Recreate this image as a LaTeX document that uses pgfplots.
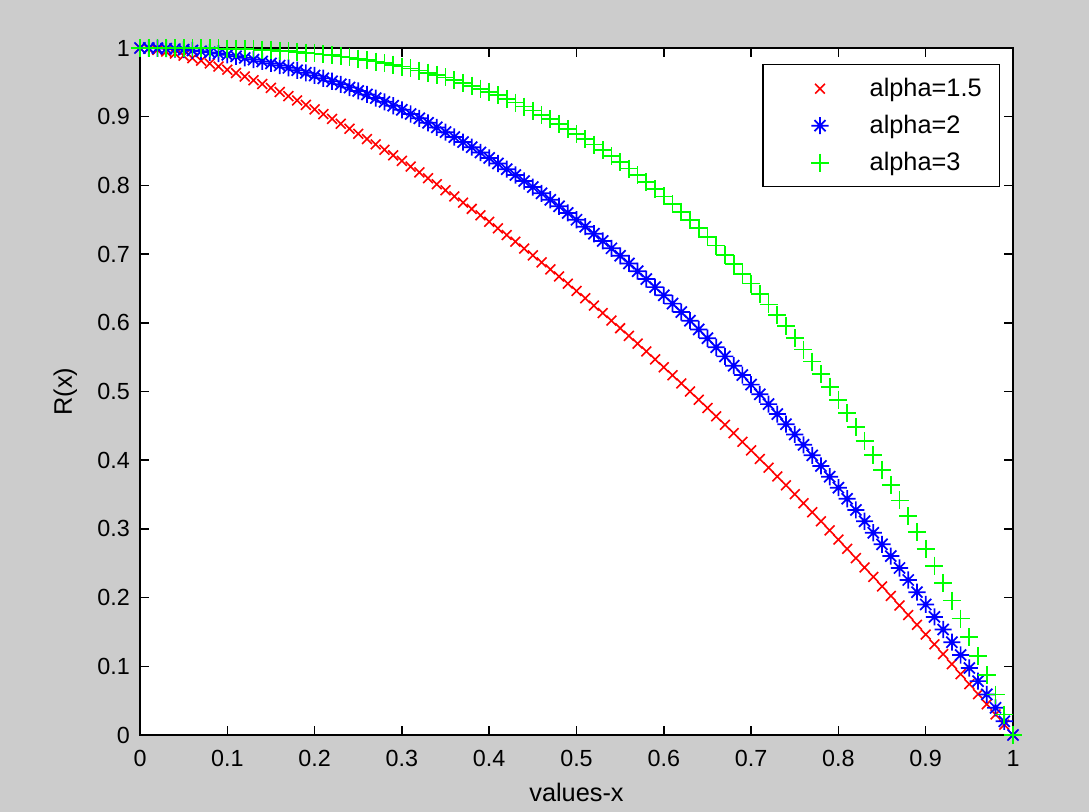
\documentclass[border=0pt]{standalone}
\usepackage{fontspec}
\setmainfont{Liberation Sans}
\usepackage{pgfplots}
\usepackage{pgfplotstable}
\pgfplotsset{compat=1.18}
\definecolor{bg}{RGB}{204,204,204}
\pgfdeclareplotmark{mstar}{%
  \pgfpathmoveto{\pgfqpoint{-\pgfplotmarksize}{0pt}}\pgfpathlineto{\pgfqpoint{\pgfplotmarksize}{0pt}}%
  \pgfpathmoveto{\pgfqpoint{0pt}{-\pgfplotmarksize}}\pgfpathlineto{\pgfqpoint{0pt}{\pgfplotmarksize}}%
  \pgfpathmoveto{\pgfqpoint{-.65\pgfplotmarksize}{-.65\pgfplotmarksize}}\pgfpathlineto{\pgfqpoint{.65\pgfplotmarksize}{.65\pgfplotmarksize}}%
  \pgfpathmoveto{\pgfqpoint{-.65\pgfplotmarksize}{.65\pgfplotmarksize}}\pgfpathlineto{\pgfqpoint{.65\pgfplotmarksize}{-.65\pgfplotmarksize}}%
  \pgfusepathqstroke}
\pgfplotsset{mylegend/.style={legend image code/.code={\path[draw=none,fill=none] (0pt,-13.875pt) rectangle (78pt,13.875pt); \draw[##1] plot coordinates {(42.75pt,0pt)};}}}
\pgfplotstableread{
x a15 a2 a3
0.00 1.0000 1.0000 1.0000
0.01 0.9990 0.9999 1.0000
0.02 0.9972 0.9996 1.0000
0.03 0.9948 0.9991 1.0000
0.04 0.9920 0.9984 0.9999
0.05 0.9888 0.9975 0.9999
0.06 0.9853 0.9964 0.9998
0.07 0.9815 0.9951 0.9997
0.08 0.9774 0.9936 0.9995
0.09 0.9730 0.9919 0.9993
0.10 0.9684 0.9900 0.9990
0.11 0.9635 0.9879 0.9987
0.12 0.9584 0.9856 0.9983
0.13 0.9531 0.9831 0.9978
0.14 0.9476 0.9804 0.9973
0.15 0.9419 0.9775 0.9966
0.16 0.9360 0.9744 0.9959
0.17 0.9299 0.9711 0.9951
0.18 0.9236 0.9676 0.9942
0.19 0.9172 0.9639 0.9931
0.20 0.9106 0.9600 0.9920
0.21 0.9038 0.9559 0.9907
0.22 0.8968 0.9516 0.9894
0.23 0.8897 0.9471 0.9878
0.24 0.8824 0.9424 0.9862
0.25 0.8750 0.9375 0.9844
0.26 0.8674 0.9324 0.9824
0.27 0.8597 0.9271 0.9803
0.28 0.8518 0.9216 0.9780
0.29 0.8438 0.9159 0.9756
0.30 0.8357 0.9100 0.9730
0.31 0.8274 0.9039 0.9702
0.32 0.8190 0.8976 0.9672
0.33 0.8104 0.8911 0.9641
0.34 0.8017 0.8844 0.9607
0.35 0.7929 0.8775 0.9571
0.36 0.7840 0.8704 0.9533
0.37 0.7749 0.8631 0.9493
0.38 0.7658 0.8556 0.9451
0.39 0.7564 0.8479 0.9407
0.40 0.7470 0.8400 0.9360
0.41 0.7375 0.8319 0.9311
0.42 0.7278 0.8236 0.9259
0.43 0.7180 0.8151 0.9205
0.44 0.7081 0.8064 0.9148
0.45 0.6981 0.7975 0.9089
0.46 0.6880 0.7884 0.9027
0.47 0.6778 0.7791 0.8962
0.48 0.6674 0.7696 0.8894
0.49 0.6570 0.7599 0.8824
0.50 0.6464 0.7500 0.8750
0.51 0.6358 0.7399 0.8673
0.52 0.6250 0.7296 0.8594
0.53 0.6142 0.7191 0.8511
0.54 0.6032 0.7084 0.8425
0.55 0.5921 0.6975 0.8336
0.56 0.5809 0.6864 0.8244
0.57 0.5697 0.6751 0.8148
0.58 0.5583 0.6636 0.8049
0.59 0.5468 0.6519 0.7946
0.60 0.5352 0.6400 0.7840
0.61 0.5236 0.6279 0.7730
0.62 0.5118 0.6156 0.7617
0.63 0.5000 0.6031 0.7500
0.64 0.4880 0.5904 0.7379
0.65 0.4760 0.5775 0.7254
0.66 0.4638 0.5644 0.7125
0.67 0.4516 0.5511 0.6992
0.68 0.4393 0.5376 0.6856
0.69 0.4268 0.5239 0.6715
0.70 0.4143 0.5100 0.6570
0.71 0.4017 0.4959 0.6421
0.72 0.3891 0.4816 0.6268
0.73 0.3763 0.4671 0.6110
0.74 0.3634 0.4524 0.5948
0.75 0.3505 0.4375 0.5781
0.76 0.3374 0.4224 0.5610
0.77 0.3243 0.4071 0.5435
0.78 0.3111 0.3916 0.5254
0.79 0.2978 0.3759 0.5070
0.80 0.2845 0.3600 0.4880
0.81 0.2710 0.3439 0.4686
0.82 0.2575 0.3276 0.4486
0.83 0.2438 0.3111 0.4282
0.84 0.2301 0.2944 0.4073
0.85 0.2163 0.2775 0.3859
0.86 0.2025 0.2604 0.3639
0.87 0.1885 0.2431 0.3415
0.88 0.1745 0.2256 0.3185
0.89 0.1604 0.2079 0.2950
0.90 0.1462 0.1900 0.2710
0.91 0.1319 0.1719 0.2464
0.92 0.1176 0.1536 0.2213
0.93 0.1031 0.1351 0.1956
0.94 0.0886 0.1164 0.1694
0.95 0.0741 0.0975 0.1426
0.96 0.0594 0.0784 0.1153
0.97 0.0447 0.0591 0.0873
0.98 0.0299 0.0396 0.0588
0.99 0.0150 0.0199 0.0297
1.00 0.0000 0.0000 0.0000
}\datatable

\begin{document}
\begin{tikzpicture}
\fill[bg] (-105pt,-57.75pt) rectangle (711.75pt,551.25pt);
\begin{axis}[
  at={(0pt,0pt)}, anchor=south west,
  width=654.75pt, height=515.25pt, scale only axis,
  xmin=0, xmax=1, ymin=0, ymax=1,
  axis background/.style={fill=white},
  axis line style={black, line width=1.1pt},
  every tick/.style={black, line width=1.1pt},
  major tick length=7pt,
  tick align=inside, tick pos=both,
  xtick={0,0.1,0.2,0.3,0.4,0.5,0.6,0.7,0.8,0.9,1},
  ytick={0,0.1,0.2,0.3,0.4,0.5,0.6,0.7,0.8,0.9,1},
  xticklabels={0,0.1,0.2,0.3,0.4,0.5,0.6,0.7,0.8,0.9,1},
  yticklabels={0,0.1,0.2,0.3,0.4,0.5,0.6,0.7,0.8,0.9,1},
  ticklabel style={font=\fontsize{17.5}{20}\selectfont, text=black},
  xticklabel style={anchor=base, yshift=-24pt, inner sep=0pt},
  yticklabel style={anchor=east, xshift=-7.5pt, inner sep=0pt},
  xlabel={values-x}, ylabel={R(x)},
  label style={font=\fontsize{19}{22}\selectfont},
  xlabel style={at={(axis description cs:0.5,-0.0975)}, anchor=base, inner sep=0pt},
  ylabel style={at={(axis description cs:-0.0779,0.5)}, anchor=base, inner sep=0pt},
  clip=false,
  legend style={at={(rel axis cs:1,1)}, anchor=north east, xshift=-9.75pt, yshift=-12pt,
    draw=black, line width=1pt, fill=white, inner xsep=0pt, inner ysep=4.125pt,
    row sep=0pt, column sep=0pt, font=\fontsize{19}{22}\selectfont},
  legend cell align=left,
  legend style={cells={anchor=west, inner sep=0pt, text width=95.25pt, align=left}},
]
\addplot[only marks, mark=x, mark size=5.2pt, color=red, line width=1.2pt, mark options={solid}, mylegend]
  table[x=x, y=a15] {\datatable};
\addlegendentry{alpha=1.5}
\addplot[only marks, mark=mstar, mark size=6.4pt, color=blue, line width=1.3pt, mark options={solid}, mylegend]
  table[x=x, y=a2] {\datatable};
\addlegendentry{alpha=2}
\addplot[only marks, mark=+, mark size=6.75pt, color=green, line width=1.3pt, mark options={solid}, mylegend]
  table[x=x, y=a3] {\datatable};
\addlegendentry{alpha=3}
\end{axis}
\end{tikzpicture}
\end{document}
